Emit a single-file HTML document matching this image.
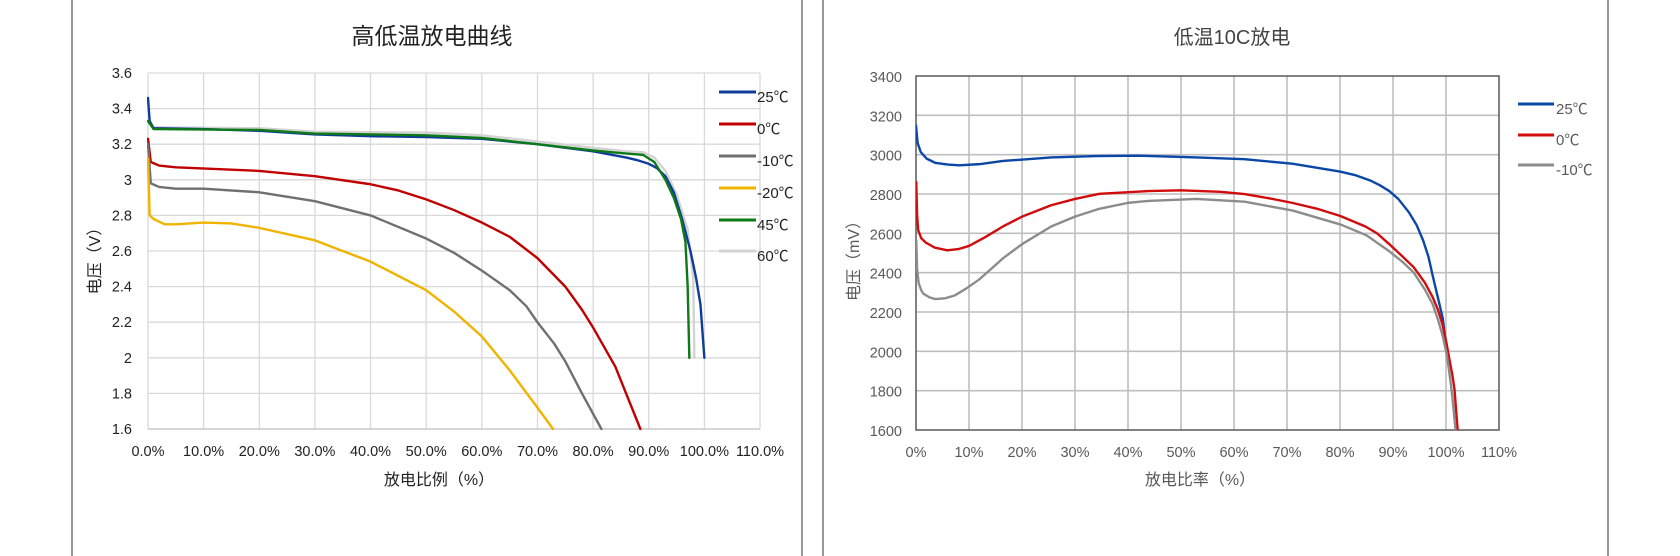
<!DOCTYPE html>
<html><head><meta charset="utf-8"><style>
html,body{margin:0;padding:0;background:#fff;}
svg{display:block;font-family:"Liberation Sans","Noto Sans CJK SC",sans-serif;}
</style></head><body>
<svg width="1680" height="556" viewBox="0 0 1680 556" xmlns="http://www.w3.org/2000/svg">
<defs>
<clipPath id="cl"><rect x="147" y="60" width="620" height="370"/></clipPath>
<clipPath id="cr"><rect x="916" y="76" width="583" height="354"/></clipPath>
</defs>
<!-- panel borders -->
<line x1="72" y1="0" x2="72" y2="556" stroke="#555" stroke-width="1.2"/>
<line x1="802" y1="0" x2="802" y2="556" stroke="#555" stroke-width="1.2"/>
<line x1="823" y1="0" x2="823" y2="556" stroke="#555" stroke-width="1.2"/>
<line x1="1608" y1="0" x2="1608" y2="556" stroke="#555" stroke-width="1.2"/>

<!-- LEFT CHART -->
<text x="432" y="44" font-size="23" text-anchor="middle" fill="#222">高低温放电曲线</text>
<g stroke="#d9d9d9" stroke-width="1.3">
<line x1="148" y1="73" x2="760" y2="73"/><line x1="148" y1="108.6" x2="760" y2="108.6"/>
<line x1="148" y1="144.2" x2="760" y2="144.2"/><line x1="148" y1="179.8" x2="760" y2="179.8"/>
<line x1="148" y1="215.4" x2="760" y2="215.4"/><line x1="148" y1="251" x2="760" y2="251"/>
<line x1="148" y1="286.6" x2="760" y2="286.6"/><line x1="148" y1="322.2" x2="760" y2="322.2"/>
<line x1="148" y1="357.8" x2="760" y2="357.8"/><line x1="148" y1="393.4" x2="760" y2="393.4"/>
<line x1="148" y1="73" x2="148" y2="429"/><line x1="203.6" y1="73" x2="203.6" y2="429"/>
<line x1="259.3" y1="73" x2="259.3" y2="429"/><line x1="314.9" y1="73" x2="314.9" y2="429"/>
<line x1="370.5" y1="73" x2="370.5" y2="429"/><line x1="426.2" y1="73" x2="426.2" y2="429"/>
<line x1="481.8" y1="73" x2="481.8" y2="429"/><line x1="537.5" y1="73" x2="537.5" y2="429"/>
<line x1="593.1" y1="73" x2="593.1" y2="429"/><line x1="648.7" y1="73" x2="648.7" y2="429"/>
<line x1="704.4" y1="73" x2="704.4" y2="429"/><line x1="760" y1="73" x2="760" y2="429"/>
</g>
<line x1="148" y1="429" x2="760" y2="429" stroke="#c8c8c8" stroke-width="1.5"/>
<g font-size="14.5" fill="#222" text-anchor="end">
<text x="132" y="78">3.6</text><text x="132" y="113.6">3.4</text><text x="132" y="149.2">3.2</text>
<text x="132" y="184.8">3</text><text x="132" y="220.4">2.8</text><text x="132" y="256">2.6</text>
<text x="132" y="291.6">2.4</text><text x="132" y="327.2">2.2</text><text x="132" y="362.8">2</text>
<text x="132" y="398.4">1.8</text><text x="132" y="434">1.6</text>
</g>
<g font-size="14.5" fill="#222" text-anchor="middle">
<text x="148" y="456">0.0%</text><text x="203.6" y="456">10.0%</text><text x="259.3" y="456">20.0%</text>
<text x="314.9" y="456">30.0%</text><text x="370.5" y="456">40.0%</text><text x="426.2" y="456">50.0%</text>
<text x="481.8" y="456">60.0%</text><text x="537.5" y="456">70.0%</text><text x="593.1" y="456">80.0%</text>
<text x="648.7" y="456">90.0%</text><text x="704.4" y="456">100.0%</text><text x="760" y="456">110.0%</text>
</g>
<text x="439" y="485" font-size="16" text-anchor="middle" fill="#222">放电比例（%）</text>
<text transform="translate(100,257) rotate(-90)" font-size="16" text-anchor="middle" fill="#222">电压（V）</text>

<g clip-path="url(#cl)" fill="none" stroke-width="2.4" stroke-linejoin="round" stroke-linecap="round">
<g transform="translate(148,713.8) scale(5.5636,-178)">
<polyline vector-effect="non-scaling-stroke" stroke="#d3d3d3" points="0,3.33 1,3.295 20,3.29 30,3.27 50,3.265 60,3.25 70,3.215 80,3.18 86,3.16 89,3.155 91,3.125 93,3.05 95,2.92 97,2.72 98,2.45 98.2,2.0"/>
<polyline vector-effect="non-scaling-stroke" stroke="#0f3c9a" points="0,3.46 0.3,3.33 1,3.29 10,3.285 20,3.275 30,3.255 40,3.245 50,3.24 60,3.23 70,3.2 80,3.16 86,3.125 88,3.11 90,3.09 91.5,3.065 93,3.02 94.5,2.93 96,2.78 97.5,2.6 98.5,2.45 99.3,2.3 100,2.0"/>
<polyline vector-effect="non-scaling-stroke" stroke="#0e7a17" points="0,3.33 1,3.285 20,3.28 30,3.26 50,3.25 60,3.235 70,3.2 80,3.165 85,3.15 89,3.14 91,3.1 93,3.0 94.5,2.9 95.8,2.78 96.6,2.65 97,2.4 97.3,2.0"/>
<polyline vector-effect="non-scaling-stroke" stroke="#c00000" points="0,3.23 0.5,3.1 2,3.08 5,3.07 20,3.05 30,3.02 40,2.975 45,2.94 50,2.89 55,2.83 60,2.76 65,2.68 70,2.56 75,2.4 78,2.27 80,2.17 84,1.95 88.5,1.6"/>
<polyline vector-effect="non-scaling-stroke" stroke="#707070" points="0,3.2 0.5,2.98 2,2.96 5,2.95 10,2.95 20,2.93 30,2.88 40,2.8 50,2.67 55,2.59 60,2.49 65,2.38 68,2.29 70,2.2 73,2.08 75,1.98 78,1.8 81.5,1.6"/>
<polyline vector-effect="non-scaling-stroke" stroke="#f0b400" points="0,3.12 0.3,2.8 1,2.78 3,2.75 5,2.75 10,2.76 15,2.755 20,2.73 30,2.66 40,2.54 50,2.38 55,2.26 60,2.12 65,1.93 70,1.72 72.8,1.6"/>
</g></g>
<g stroke-width="3">
<line x1="719" y1="92" x2="756" y2="92" stroke="#0f3c9a"/>
<line x1="719" y1="124" x2="756" y2="124" stroke="#c00000"/>
<line x1="719" y1="156" x2="756" y2="156" stroke="#707070"/>
<line x1="719" y1="188" x2="756" y2="188" stroke="#f0b400"/>
<line x1="719" y1="220" x2="756" y2="220" stroke="#0e7a17"/>
<line x1="719" y1="251" x2="756" y2="251" stroke="#d3d3d3"/>
</g>
<g font-size="15" fill="#222">
<text x="757" y="102">25℃</text><text x="757" y="134">0℃</text><text x="757" y="166">-10℃</text>
<text x="757" y="198">-20℃</text><text x="757" y="230">45℃</text><text x="757" y="261">60℃</text>
</g>

<!-- RIGHT CHART -->
<text x="1232" y="44" font-size="20" text-anchor="middle" fill="#444">低温10C放电</text>
<g stroke="#bfbfbf" stroke-width="1.6">
<line x1="916" y1="115.3" x2="1499" y2="115.3"/><line x1="916" y1="154.7" x2="1499" y2="154.7"/>
<line x1="916" y1="194" x2="1499" y2="194"/><line x1="916" y1="233.3" x2="1499" y2="233.3"/>
<line x1="916" y1="272.7" x2="1499" y2="272.7"/><line x1="916" y1="312" x2="1499" y2="312"/>
<line x1="916" y1="351.3" x2="1499" y2="351.3"/><line x1="916" y1="390.7" x2="1499" y2="390.7"/>
<line x1="969" y1="76" x2="969" y2="430"/><line x1="1022" y1="76" x2="1022" y2="430"/>
<line x1="1075" y1="76" x2="1075" y2="430"/><line x1="1128" y1="76" x2="1128" y2="430"/>
<line x1="1181" y1="76" x2="1181" y2="430"/><line x1="1234" y1="76" x2="1234" y2="430"/>
<line x1="1287" y1="76" x2="1287" y2="430"/><line x1="1340" y1="76" x2="1340" y2="430"/>
<line x1="1393" y1="76" x2="1393" y2="430"/><line x1="1446" y1="76" x2="1446" y2="430"/>
</g>
<rect x="916" y="76" width="583" height="354" fill="none" stroke="#595959" stroke-width="1.5"/>
<g font-size="14.5" fill="#595959" text-anchor="end">
<text x="902" y="82">3400</text><text x="902" y="121.3">3200</text><text x="902" y="160.7">3000</text>
<text x="902" y="200">2800</text><text x="902" y="239.3">2600</text><text x="902" y="278.7">2400</text>
<text x="902" y="318">2200</text><text x="902" y="357.3">2000</text><text x="902" y="396.7">1800</text>
<text x="902" y="436">1600</text>
</g>
<g font-size="14.5" fill="#595959" text-anchor="middle">
<text x="916" y="457">0%</text><text x="969" y="457">10%</text><text x="1022" y="457">20%</text>
<text x="1075" y="457">30%</text><text x="1128" y="457">40%</text><text x="1181" y="457">50%</text>
<text x="1234" y="457">60%</text><text x="1287" y="457">70%</text><text x="1340" y="457">80%</text>
<text x="1393" y="457">90%</text><text x="1446" y="457">100%</text><text x="1499" y="457">110%</text>
</g>
<text x="1200" y="485" font-size="16" text-anchor="middle" fill="#595959">放电比率（%）</text>
<text transform="translate(859,257) rotate(-90)" font-size="16" text-anchor="middle" fill="#595959">电压（mV）</text>

<g clip-path="url(#cr)" fill="none" stroke-width="2.4" stroke-linejoin="round" stroke-linecap="round">
<g transform="translate(916,744.7) scale(5.3,-0.19667)">
<polyline vector-effect="non-scaling-stroke" stroke="#0a47a6" points="0,3148 0.3,3060 0.9,3013 2,2980 3.6,2959 6,2950 8.2,2946 12,2952 16.4,2968 25.5,2986 34,2993 42,2995 53,2986 62,2977 71,2954 80,2914 83,2895 85.7,2869 87.5,2845 89.3,2815 91,2775 93,2707 94.5,2640 95.7,2563 96.7,2480 97.5,2383 98.5,2270 99.4,2167 100.1,2005"/>
<polyline vector-effect="non-scaling-stroke" stroke="#d00c0c" points="0.05,2860 0.2,2700 0.4,2617 1,2575 1.8,2554 3.5,2528 5.9,2514 8,2520 10,2536 13,2580 16.4,2635 20,2685 25.5,2743 30,2775 34.6,2801 43.8,2815 50,2819 57.4,2811 62,2800 66.5,2779 71,2755 75.7,2725 80,2689 84.8,2635 87,2600 89.3,2545 91.5,2490 93.9,2428 96,2350 97.5,2275 98.5,2210 99.4,2131 100.1,2040 100.7,1951 101.2,1880 101.6,1807 102.2,1600"/>
<polyline vector-effect="non-scaling-stroke" stroke="#8c8c8c" points="0.05,2563 0.2,2420 0.5,2347 1,2310 1.4,2293 2.5,2275 3.6,2266 5.5,2270 7.3,2284 9.5,2320 11.9,2365 14,2415 16.4,2473 20,2545 25.5,2635 30,2685 34.6,2725 40,2755 43.8,2765 52.9,2775 62,2761 71.1,2716 80.2,2644 85,2590 89.3,2509 92,2450 93.9,2401 96,2315 97.5,2239 98.5,2160 99.4,2077 100.1,1990 100.7,1879 101.2,1770 101.8,1600"/>
</g></g>
<g stroke-width="3">
<line x1="1518" y1="104" x2="1554" y2="104" stroke="#0a47a6"/>
<line x1="1518" y1="135" x2="1554" y2="135" stroke="#d00c0c"/>
<line x1="1518" y1="165" x2="1554" y2="165" stroke="#8c8c8c"/>
</g>
<g font-size="15" fill="#595959">
<text x="1556" y="114">25℃</text><text x="1556" y="145">0℃</text><text x="1556" y="175">-10℃</text>
</g>
</svg>
</body></html>
